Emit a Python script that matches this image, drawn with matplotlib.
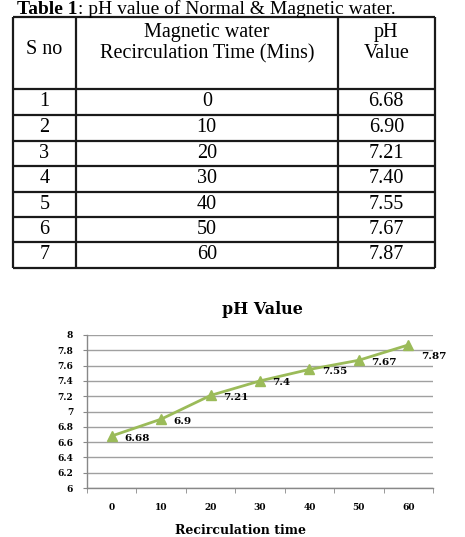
"""Table 1 (pH of magnetic water vs recirculation time) plus the matching line chart."""
import matplotlib
matplotlib.use("Agg")
import matplotlib.pyplot as plt
from matplotlib.ticker import FixedLocator, FormatStrFormatter

S_NO = [1, 2, 3, 4, 5, 6, 7]
TIMES = [0, 10, 20, 30, 40, 50, 60]
PH = [6.68, 6.90, 7.21, 7.40, 7.55, 7.67, 7.87]
Y_TICKS = [6.0, 6.2, 6.4, 6.6, 6.8, 7.0, 7.2, 7.4, 7.6, 7.8, 8.0]

GREEN = "#9BBB59"
GRID = "#A0A0A0"
W, H = 465, 537

fig = plt.figure(figsize=(W / 100, H / 100), dpi=100)

# ---- table, drawn in pixel coordinates on a full-figure axes
tab = fig.add_axes([0, 0, 1, 1])
tab.set_xlim(0, W)
tab.set_ylim(H, 0)
tab.axis("off")

serif = "Liberation Serif"
col_x = [12.5, 76, 337.5, 435]
row_y = [17, 89, 115, 140.5, 166, 191.5, 217, 242, 267.5]
tab.hlines(row_y, col_x[0], col_x[-1], color="#1a1a1a", lw=1.6)
tab.vlines(col_x, row_y[0], row_y[-1], color="#1a1a1a", lw=1.6)

t1 = tab.text(17, 17.5, "Table 1", fontsize=14, family=serif, weight="bold",
              ha="left", va="bottom")
tab.annotate(": pH value of Normal & Magnetic water.", xy=(1, 0), xycoords=t1,
             fontsize=14, family=serif, ha="left", va="bottom")

centers = [(col_x[i] + col_x[i + 1]) / 2 for i in range(3)]
kw = dict(fontsize=14.5, family=serif, ha="center", va="center")
tab.text(centers[0], 49, "S no", **kw)
tab.text(centers[1], 32, "Magnetic water", **kw)
tab.text(centers[1], 54, "Recirculation Time (Mins)", **kw)
tab.text(centers[2], 32, "pH", **kw)
tab.text(centers[2], 54, "Value", **kw)
for i, (s, t, p) in enumerate(zip(S_NO, TIMES, PH)):
    yc = (row_y[i + 1] + row_y[i + 2]) / 2
    tab.text(centers[0], yc, str(s), **kw)
    tab.text(centers[1], yc, str(t), **kw)
    tab.text(centers[2], yc, f"{p:.2f}", **kw)

# ---- chart
cfont = "DejaVu Serif"
ax = fig.add_axes([87 / W, (H - 488) / H, (433 - 87) / W, (488 - 335) / H])
x = list(range(len(TIMES)))
ax.plot(x, PH, color=GREEN, lw=2.0, marker="^", ms=7, zorder=3)
for i, (xi, v) in enumerate(zip(x, PH)):
    off = (9, -8) if i == len(PH) - 1 else (9, -1.5)
    ax.annotate(f"{v:g}", (xi, v), xytext=off, textcoords="offset points",
                ha="left", va="center", fontsize=7.5, family=cfont, weight="bold")

ax.set_xlim(-0.5, len(TIMES) - 0.5)
ax.set_ylim(6, 8)
ax.set_xticks(x)
ax.set_xticklabels([str(t) for t in TIMES])
ax.xaxis.set_minor_locator(FixedLocator([i - 0.5 for i in range(len(TIMES) + 1)]))
ax.tick_params(axis="x", which="major", length=0, pad=11)
ax.tick_params(axis="x", which="minor", length=3.5, color="#888888", direction="out")
ax.set_yticks(Y_TICKS)
ax.yaxis.set_major_formatter(FormatStrFormatter("%g"))
ax.tick_params(axis="y", length=3, color="#888888", pad=7)
for lbl in ax.get_xticklabels() + ax.get_yticklabels():
    lbl.set_fontsize(6.5)
    lbl.set_family(cfont)
    lbl.set_weight("bold")

ax.grid(axis="y", color=GRID, lw=1.0)
ax.set_axisbelow(True)
for side in ("top", "right"):
    ax.spines[side].set_visible(False)
for side in ("left", "bottom"):
    ax.spines[side].set_color("#888888")
    ax.spines[side].set_linewidth(1.0)

fig.text(262 / W, 1 - 310 / H, "pH Value", fontsize=11.5, family=cfont, weight="bold",
         ha="center", va="center")
fig.text(240 / W, 1 - 530 / H, "Recirculation time", fontsize=9, family=cfont,
         weight="bold", ha="center", va="center")

fig.savefig("out.png", dpi=100)
